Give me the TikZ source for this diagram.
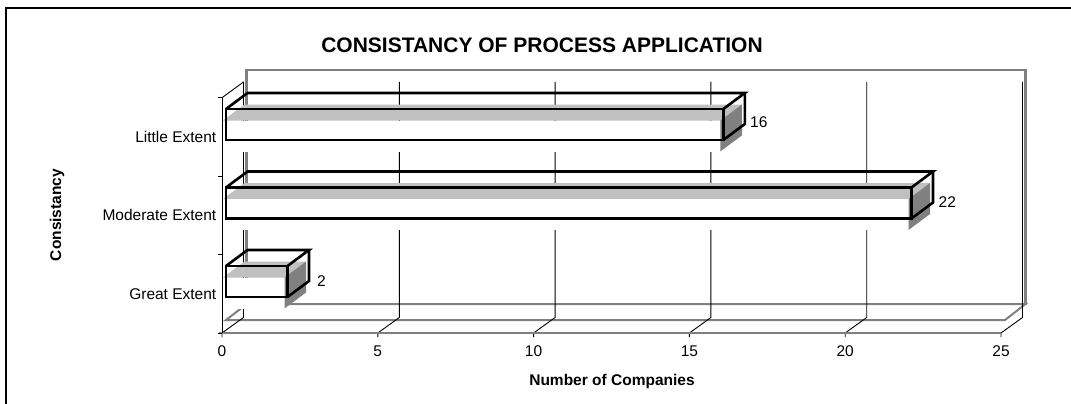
\documentclass[tikz,border=0pt]{standalone}
\usepackage{fontspec}
\setmainfont{Liberation Sans}
\definecolor{wallgray}{RGB}{128,128,128}
\definecolor{topgray}{RGB}{192,192,192}
\definecolor{sidegray}{RGB}{128,128,128}
% one 3-D bar: #1 = top edge of the front face, #2 = right edge of the front face
\newcommand{\chartbar}[2]{%
  \begin{scope}[shift={(-3,11.5)}]
    \fill[topgray] (226,#1) -- (247.5,#1-16) -- (#2+21.5,#1-16) -- (#2,#1) -- cycle;
    \fill[white] (226,#1) rectangle (#2,#1+31);
    \fill[sidegray] (#2,#1) -- (#2+21.5,#1-16) -- (#2+21.5,#1+15) -- (#2,#1+31) -- cycle;
  \end{scope}
  \draw[baredge] (226,#1) rectangle (#2,#1+31);
  \draw[baredge] (226,#1) -- (247.5,#1-16) -- (#2+21.5,#1-16) -- (#2,#1);
  \draw[baredge] (#2+21.5,#1-16) -- (#2+21.5,#1+15) -- (#2,#1+31);
}
\begin{document}
\begin{tikzpicture}[x=1pt,y=-1pt,
  frame/.style={black,line width=1.5pt},
  wall/.style={wallgray,line width=2.6pt,line join=miter},
  floorline/.style={wallgray,line width=2pt},
  axisline/.style={wallgray,line width=1.6pt},
  gridline/.style={black,line width=0.9pt},
  baredge/.style={black,line width=2.6pt,line join=miter},
  lbl/.style={font=\fontsize{15.5}{18}\selectfont,inner sep=0pt},
  axtitle/.style={font=\bfseries\fontsize{15.5}{18}\selectfont,inner sep=0pt},
  charttitle/.style={font=\bfseries\fontsize{21}{24}\selectfont,inner sep=0pt}]
\useasboundingbox (0,0) rectangle (1071,404);
\fill[white] (0,0) rectangle (1071,404);

% chart area border
\draw[frame] (6,404) -- (6,8) -- (1071,8);

% back wall and floor
\draw[wall] (246.7,304) -- (246.7,70) -- (1025.5,70) -- (1025.5,304) -- cycle;
\draw[floorline] (226,320) -- (246.7,304) -- (1025.5,304) -- (1005,320) -- cycle;

% value gridlines: on the back wall, across the floor, tick below the axis
\foreach \k in {0,...,5}{
  \pgfmathsetmacro{\xf}{222+155.8*\k}
  \draw[gridline] (\xf+21.5,82) -- (\xf+21.5,317.5) -- (\xf,333) -- (\xf,337);
}

% value axis
\draw[axisline] (219,333) -- (1001,333);

% category axis with ticks
\draw[gridline] (222,97.7) -- (222,333);
\draw[gridline] (222,97.7) -- (243.5,82);
\foreach \y in {97.7,176.1,254.5,333}{
  \draw[gridline] (217.5,\y) -- (222,\y);
}

% bars
\chartbar{109}{723.3}
\chartbar{187.5}{911.5}
\chartbar{266}{287.5}

% data labels
\node[lbl,anchor=west] (v16) at (750,122.5) {16};
\node[lbl,anchor=west] (v22) at (938.5,202) {22};
\node[lbl,anchor=west] (v2) at (317,280.7) {2};

% category labels
\node[lbl,anchor=east] (c1) at (216.5,136.9) {Little Extent};
\node[lbl,anchor=east] (c2) at (216.5,215.3) {Moderate Extent};
\node[lbl,anchor=east] (c3) at (216.5,293.7) {Great Extent};

% value axis labels
\foreach \k/\t in {0/0,1/5,2/10,3/15,4/20,5/25}{
  \node[lbl] (t\k) at (222+155.8*\k,351.5) {\t};
}

% titles
\node[charttitle] (title) at (542,45) {CONSISTANCY OF PROCESS APPLICATION};
\node[axtitle,rotate=90] (ytitle) at (57,215) {Consistancy};
\node[axtitle] (xtitle) at (612,381.7) {Number of Companies};
\end{tikzpicture}
\end{document}
